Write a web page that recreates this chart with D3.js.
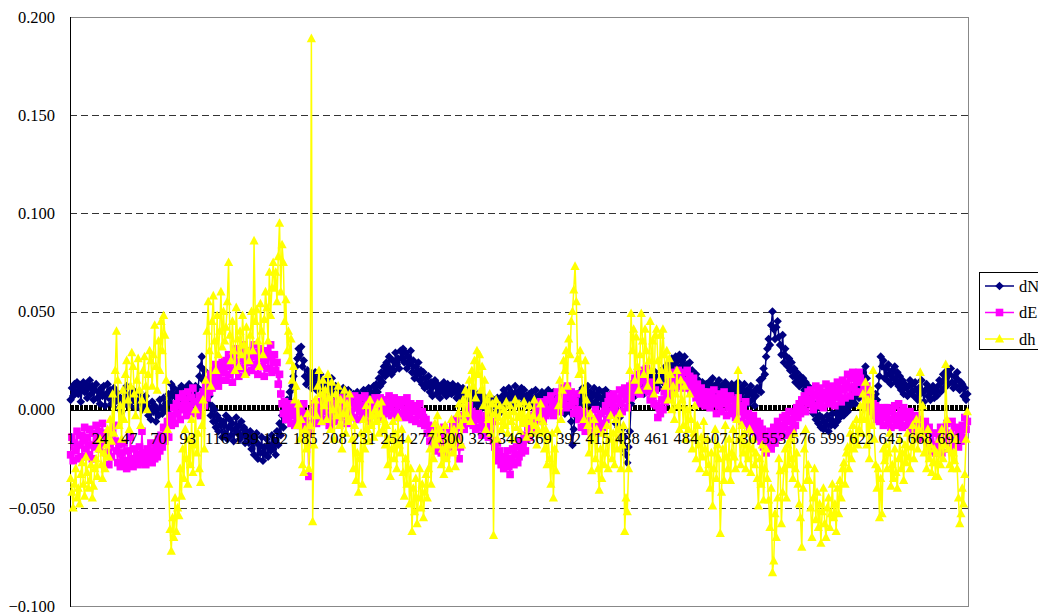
<!DOCTYPE html>
<html lang="en">
<head>
  <meta charset="UTF-8">
  <title>dN dE dh</title>
  <script src="https://d3js.org/d3.v7.min.js"></script>
  <style>
    body { margin: 0; background: #fff; }
    svg { display: block; }
    text { font-family: "Liberation Serif", "Times New Roman", serif; fill: #000; }
  </style>
</head>
<body>
  <script>
    // values, in mm (plotted in m)
    const dN = [
      5,11,7,13,9,14,8,12,4,10,14,9,13,6,11,15,8,12,5,10,
      13,6,9,3,11,7,12,2,8,13,6,10,3,7,11,4,9,5,1,6,
      -1,5,9,3,12,7,2,8,4,10,5,1,7,3,9,5,0,6,2,7,
      3,-3,1,-5,4,-1,2,-6,0,-3,5,1,-2,6,0,3,-1,8,4,13,
      7,11,3,8,1,10,5,12,2,7,11,4,9,13,6,10,3,8,12,6,
      11,17,22,27,15,20,9,13,3,7,-3,2,-6,0,-9,-3,-11,-5,-8,-14,
      -6,-12,-3,-15,-9,-5,-13,-7,-16,-10,-4,-12,-8,-15,-6,-13,-9,-17,-11,-14,
      -17,-11,-20,-14,-23,-16,-12,-25,-18,-22,-14,-26,-19,-23,-15,-24,-18,-21,-13,-20,
      -16,-23,-11,-18,-7,-13,-3,-9,0,-5,5,1,9,4,12,17,11,22,26,31,
      28,32,22,25,17,13,20,15,19,11,17,13,19,10,16,12,18,9,14,11,
      15,8,13,6,11,16,9,5,12,7,10,4,9,6,11,3,8,5,10,2,
      7,3,8,1,5,9,4,7,2,6,10,3,8,5,11,6,9,4,12,8,
      13,9,16,12,19,14,22,17,24,19,27,21,18,25,20,29,23,26,21,30,
      26,31,24,29,21,27,23,30,19,25,16,22,18,24,15,20,13,19,11,16,
      12,17,9,14,7,12,15,8,13,10,6,12,9,14,11,7,13,9,12,8,
      13,9,11,6,12,8,10,5,11,7,9,4,10,6,8,3,9,5,7,2,
      8,4,6,1,7,3,5,0,4,-1,6,2,5,-2,3,6,1,4,-1,7,
      10,5,8,3,11,6,9,2,7,12,5,9,3,8,11,6,10,4,7,2,
      8,4,9,2,6,10,3,7,1,6,9,4,8,2,5,10,3,7,4,9,
      5,1,8,3,7,0,5,2,-2,4,1,6,-1,-6,-18,-10,-3,4,8,2,
      9,4,11,6,2,8,12,5,9,3,7,11,4,8,2,10,6,3,9,5,
      10,4,7,1,8,3,6,-3,-7,-1,-9,-4,-15,-10,-20,-14,-23,-27,-19,-11,
      3,9,14,7,12,16,9,14,11,17,8,13,18,10,15,12,17,9,15,19,
      13,17,11,16,20,14,18,22,15,21,24,17,26,20,23,27,19,25,28,22,
      25,20,27,18,23,19,24,14,20,16,12,18,9,15,11,7,14,10,6,13,
      9,14,7,12,16,10,6,13,9,15,8,12,5,11,14,8,12,6,10,13,
      7,12,5,10,14,8,11,4,9,13,6,10,3,8,12,5,9,2,7,11,
      10,15,9,16,21,18,27,31,36,33,43,50,41,36,42,45,37,33,28,38,
      24,31,27,22,26,20,24,17,21,14,19,16,12,17,13,16,10,14,9,12,
      6,9,2,-2,3,-5,1,-7,-3,-9,-4,-10,-6,-8,-3,-11,-5,-8,-2,-6,
      -8,-2,-6,1,-4,-1,3,-3,0,4,-1,5,2,7,4,9,3,8,11,6,
      10,15,19,13,22,16,11,6,9,3,7,2,8,5,12,17,27,22,25,16,
      21,15,23,18,13,20,16,22,14,19,12,17,10,15,8,13,11,7,12,15,
      9,13,7,14,10,5,11,8,15,9,4,10,13,7,11,5,9,12,6,10,
      7,12,15,9,14,18,11,16,20,13,18,21,14,11,17,12,19,15,10,14,
      13,7,11,5,8
    ];

    const dE = [
      -23,-14,-26,-17,-21,-11,-25,-18,-13,-24,-16,-9,-20,-14,-23,-10,-18,-25,-12,-19,
      -8,-16,-11,-20,-13,-7,-17,-12,-22,-15,-28,-19,-24,-12,-8,-16,-21,-27,-18,-29,
      -22,-28,-17,-26,-30,-21,-27,-14,-25,-29,-20,-26,-23,-28,-19,-25,-11,-27,-22,-28,
      -20,-26,-23,-17,-27,-21,-25,-18,-24,-15,-21,-13,-19,-9,-16,-12,-6,-14,-3,-8,
      -4,1,-7,3,-2,6,-5,2,8,0,5,-3,9,2,-1,6,11,3,-2,4,
      0,7,-3,4,9,2,12,6,15,9,18,11,20,14,23,17,12,21,15,24,
      19,25,15,22,28,18,24,14,27,20,31,22,17,26,29,21,33,25,19,28,
      24,30,20,27,33,23,29,18,26,31,22,28,17,25,30,21,27,33,19,24,
      28,20,24,13,18,8,3,-2,4,-5,1,-4,3,-7,0,-3,-8,2,-2,-6,
      0,-8,-3,3,-5,-9,-2,-34,-12,-7,-1,3,-4,-7,1,4,-2,-6,3,6,
      -1,-5,2,-8,4,-3,0,-6,3,-2,5,-4,1,6,-1,4,-3,-7,2,5,
      -2,3,-4,7,1,-5,4,-1,6,-3,2,7,-2,4,-6,1,5,-3,3,6,
      -1,4,-3,6,1,-4,5,0,-2,3,7,1,-3,4,6,-1,3,-4,2,5,
      -2,4,0,-4,6,1,-3,3,-5,-1,2,-6,0,-3,3,-7,-1,-4,-8,-5,
      -12,-8,-16,-10,-19,-13,-9,-21,-15,-11,-18,-22,-13,-9,-17,-23,-14,-19,-11,-16,
      -8,-17,-12,-5,-14,-25,-19,-9,-3,-10,-4,0,-7,2,-5,-1,-8,-3,-10,-5,
      -2,-9,-5,-13,-7,-11,-3,-9,-14,-8,-12,-6,-16,-19,-23,-17,-26,-21,-28,-24,
      -30,-24,-27,-21,-29,-33,-25,-20,-28,-23,-19,-27,-24,-16,-22,-18,-13,-21,-15,-9,
      -14,-6,-11,-3,-8,-1,-5,2,-4,4,-1,-6,2,-3,5,0,-2,7,3,-3,
      4,0,9,5,-1,7,11,3,8,1,12,6,2,9,5,-2,4,8,0,-5,
      -3,-9,-1,-7,-11,-4,-8,-2,-10,-5,-12,-6,0,-8,-4,-11,-2,-7,-9,-1,
      2,-5,4,7,-1,3,8,1,5,-2,6,10,3,-1,8,11,5,1,9,12,
      6,13,9,16,11,18,14,8,20,15,10,17,21,13,9,5,14,8,3,10,
      2,-4,1,-2,5,0,9,4,12,7,15,10,17,13,19,11,16,20,13,18,
      12,19,15,11,20,14,17,9,13,16,10,6,13,8,3,11,5,9,2,7,
      4,9,1,7,3,10,5,-2,6,2,8,-1,5,9,3,-3,6,1,7,-2,
      5,0,-4,3,6,-1,2,-6,1,-3,4,-7,-2,-9,-5,-11,-3,-8,-14,-6,
      -12,-7,-16,-10,-19,-13,-22,-15,-18,-11,-20,-14,-9,-17,-12,-6,-14,-8,-11,-4,
      -9,-3,-13,-6,-1,-10,-5,-11,-2,-8,1,-4,3,-2,5,0,7,-1,4,9,
      3,10,5,0,8,12,2,7,11,4,9,1,6,13,8,3,10,5,12,7,
      2,9,14,6,11,4,15,10,6,13,18,11,7,16,19,12,9,17,14,19,
      16,9,14,11,6,12,4,1,8,-1,3,-3,2,-5,1,-6,0,-3,-8,1,
      -4,1,-7,-1,-9,0,-5,2,-8,-3,3,-6,-1,-9,1,-4,-8,-2,-6,-1,
      -10,-4,-8,-13,-3,-9,-5,-12,-7,-15,-11,-6,-14,-18,-9,-16,-21,-12,-18,-22,
      -12,-19,-14,-9,-22,-16,-10,-17,-7,-14,-20,-12,-6,-15,-18,-9,-14,-19,-10,-16,
      -8,-14,-4,-10,-6
    ];

    const dh = [
      -35,-42,-50,-38,-30,-45,-40,-48,-33,-27,-38,-44,-24,-32,-40,-36,-28,-45,-39,-30,
      -25,-34,-20,-15,-28,-35,-22,-30,-18,-10,-24,-5,-16,8,-12,20,40,15,-8,2,
      -15,10,-5,18,25,5,-10,12,29,22,8,-3,15,26,10,-8,5,20,27,12,
      0,18,30,25,12,28,43,22,10,35,20,45,30,48,38,15,-10,-38,-61,-72,
      -55,-65,-45,-62,-50,-54,-30,-44,-20,-35,-10,-25,-38,-15,-28,-5,-32,-18,0,-22,
      -12,-30,-37,-8,5,-20,15,40,55,30,12,45,58,35,20,48,28,40,60,32,
      50,35,42,55,75,38,25,45,30,20,52,36,22,40,28,48,33,18,42,30,
      25,38,50,30,86,45,51,35,22,54,40,28,46,60,52,35,70,48,62,75,
      62,70,55,78,95,60,84,75,45,56,30,40,25,36,15,22,5,12,-8,3,
      -15,-5,-28,-32,-10,-20,-2,-30,-8,189,-57,-18,5,-3,12,20,8,-6,15,2,
      10,-5,18,6,-10,14,0,-15,8,-3,12,-8,5,-20,-2,10,-12,3,-6,8,
      -4,-15,-30,-8,-36,-22,-42,-25,-12,-38,-5,-20,2,-10,-16,5,-8,-3,-14,0,
      -6,3,-12,-2,4,-10,-5,-18,-8,-28,-15,-34,-20,-6,-25,-12,-30,-4,-18,-22,
      -10,-32,-44,-25,-38,-15,-48,-30,-62,-40,-52,-35,-58,-45,-30,-50,-38,-55,-42,-33,
      -45,-30,-20,-38,-12,-25,-7,-18,-3,-15,-10,-28,-20,-33,-8,-25,-14,-30,-18,-5,
      -22,-10,-29,-15,-2,3,-8,-18,5,-5,10,-2,8,15,-6,20,12,25,6,30,
      18,28,10,22,2,15,-10,5,-5,8,-12,3,-64,-2,5,-15,-4,2,-10,-6,
      0,-8,4,-12,-3,2,-6,-15,-1,5,-9,-4,3,-11,-2,-7,4,-5,-14,-3,
      2,-6,-12,-3,5,-8,-18,-10,-4,3,-12,-6,-20,-10,-28,-15,-25,-38,-12,-45,
      -20,-31,-10,2,15,-5,10,25,20,30,12,36,28,45,50,61,73,55,26,18,
      30,20,10,-5,25,5,-8,-22,-2,-31,-15,-5,-25,-10,-30,-41,-20,-35,-12,-28,
      -22,-8,-30,-15,-3,-25,-12,-28,-5,-20,-10,-2,-30,-18,-8,-62,-45,-52,-30,20,
      49,30,41,15,37,22,10,28,49,35,18,41,30,12,25,45,20,35,8,38,
      41,25,15,38,20,41,28,12,30,5,26,18,0,12,-5,8,20,2,-10,15,
      5,-8,12,-15,0,-10,8,-5,-20,-12,2,-25,-8,-18,-30,-14,-24,-6,-20,-32,
      -15,-28,-40,-22,-49,-30,-10,-35,-18,-25,-63,-42,-20,-36,-8,-24,-30,-15,-36,-22,
      -10,-24,-30,-5,20,-15,-28,-8,-22,-12,-30,-18,-25,-10,-32,-20,-15,-28,-22,-35,
      -49,-25,-38,-18,-46,-30,-20,-35,-46,-60,-40,-83,-77,-53,-65,-45,-25,-31,-58,-42,
      -30,-20,-45,-18,-28,-15,-25,-35,-12,-30,-22,-38,-48,-55,-70,-40,-20,-10,-36,-28,
      -36,-50,-65,-45,-30,-56,-42,-60,-48,-68,-52,-40,-58,-65,-50,-45,-60,-53,-38,-55,
      -48,-62,-40,-53,-36,-45,-30,-27,-38,-22,-19,-30,-12,-25,-8,-20,-15,-5,-18,-10,
      2,-12,8,-5,14,-18,5,-25,10,-8,20,-15,-28,-40,-30,-55,-35,-53,-20,-26,
      -18,-30,-22,-12,-39,-28,-35,-20,-32,-40,-25,-15,-30,-22,-36,-18,-27,-12,-24,-30,
      -19,-8,-25,-15,-5,-20,-10,19,-12,2,-22,-15,-30,-10,-25,-18,-32,-27,-20,-34,
      -22,-34,-15,-28,-10,-25,-18,23,-5,-20,-28,-12,-30,-22,-26,-15,-30,-45,-58,-53,
      -40,-48,-33,-15,-1
    ];

    const categories = d3.range(1, dN.length + 1);
    const xLabels = [1,24,47,70,93,116,139,162,185,208,231,254,277,300,323,346,369,392,415,438,461,484,507,530,553,576,599,622,645,668,691];
    const yTicks = [-0.1, -0.05, 0, 0.05, 0.1, 0.15, 0.2];

    // Excel-like markers
    const marker = {
      diamond: "M0,-4.3L4.3,0L0,4.3L-4.3,0Z",
      square: "M-3.8,-3.8H3.8V3.8H-3.8Z",
      triangle: "M0,-5L4.6,3.6H-4.6Z"
    };

    const series = [
      { name: "dN", values: dN, color: "#000080", shape: marker.diamond },
      { name: "dE", values: dE, color: "#ff00ff", shape: marker.square },
      { name: "dh", values: dh, color: "#ffff00", shape: marker.triangle }
    ];

    const width = 1038, height = 615;
    const plotL = 70, plotR = 968, plotT = 17, plotB = 606;

    const svg = d3.select("body").append("svg")
      .attr("width", width)
      .attr("height", height);

    svg.append("rect").attr("width", width).attr("height", height).attr("fill", "#fff");

    const x = d3.scaleBand().domain(categories).range([plotL, plotR]);
    const y = d3.scaleLinear().domain([-0.1, 0.2]).range([plotB, plotT]);

    // dashed gridlines
    svg.append("g")
      .selectAll("line")
      .data(yTicks.filter(t => t !== 0 && t !== -0.1))
      .join("line")
      .attr("x1", plotL).attr("x2", plotR)
      .attr("y1", d => Math.round(y(d)) + 0.5).attr("y2", d => Math.round(y(d)) + 0.5)
      .attr("stroke", "#333")
      .attr("stroke-dasharray", "7,4");

    // plot frame
    svg.append("rect")
      .attr("x", plotL + 0.5).attr("y", plotT + 0.5)
      .attr("width", plotR - plotL).attr("height", plotB - plotT)
      .attr("fill", "none").attr("stroke", "#888");
    svg.append("line")
      .attr("x1", plotL + 0.5).attr("x2", plotL + 0.5)
      .attr("y1", plotT).attr("y2", plotB + 1)
      .attr("stroke", "#000");

    // y labels
    svg.append("g")
      .selectAll("text")
      .data(yTicks)
      .join("text")
      .attr("x", 55)
      .attr("y", d => y(d))
      .attr("dy", "0.35em")
      .attr("text-anchor", "end")
      .attr("font-size", 16.5)
      .text(d3.format(".3f"));

    // category axis at zero, tick at every category
    const y0 = Math.round(y(0)) + 0.5;
    svg.append("g")
      .attr("shape-rendering", "crispEdges")
      .selectAll("line")
      .data(categories.concat([categories.length + 1]))
      .join("line")
      .attr("x1", d => d <= categories.length ? x(d) : plotR)
      .attr("x2", d => d <= categories.length ? x(d) : plotR)
      .attr("y1", y0 - 6).attr("y2", y0)
      .attr("stroke", "#000").attr("stroke-width", 1);
    svg.append("line")
      .attr("x1", plotL).attr("x2", plotR)
      .attr("y1", y0).attr("y2", y0)
      .attr("stroke", "#000");

    // series: line then markers
    const line = d3.line()
      .x((d, i) => x(categories[i]) + x.bandwidth() / 2)
      .y(d => y(d / 1000));

    series.forEach(s => {
      const g = svg.append("g");
      g.append("path")
        .datum(s.values)
        .attr("fill", "none")
        .attr("stroke", s.color)
        .attr("stroke-width", 1.5)
        .attr("d", line);
      g.selectAll("path.m")
        .data(s.values)
        .join("path")
        .attr("class", "m")
        .attr("transform", (d, i) => `translate(${x(categories[i]) + x.bandwidth() / 2},${y(d / 1000)})`)
        .attr("d", s.shape)
        .attr("fill", s.color);
    });

    // category labels sit on top of the series
    svg.append("g")
      .selectAll("text")
      .data(xLabels)
      .join("text")
      .attr("x", d => x(d) + x.bandwidth() / 2)
      .attr("y", 444)
      .attr("text-anchor", "middle")
      .attr("font-size", 16.5)
      .text(d => d);

    // legend
    const legend = svg.append("g");
    legend.append("rect")
      .attr("x", 979.5).attr("y", 272.5)
      .attr("width", 70).attr("height", 77)
      .attr("fill", "#fff").attr("stroke", "#000");
    const rows = legend.selectAll("g")
      .data(series)
      .join("g")
      .attr("transform", (d, i) => `translate(0,${286 + i * 26.5})`);
    rows.append("line")
      .attr("x1", 985).attr("x2", 1014)
      .attr("stroke", d => d.color).attr("stroke-width", 1.5);
    rows.append("path")
      .attr("transform", "translate(999.5,0)")
      .attr("d", d => d.shape)
      .attr("fill", d => d.color);
    rows.append("text")
      .attr("x", 1019).attr("dy", "0.35em")
      .attr("font-size", 16.5)
      .text(d => d.name);
  </script>
</body>
</html>
